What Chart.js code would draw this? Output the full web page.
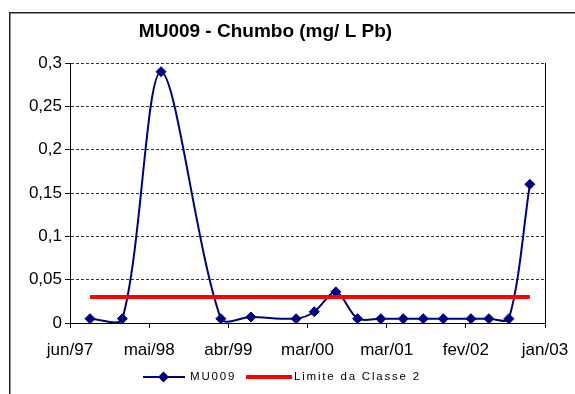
<!DOCTYPE html>
<html>
<head>
<meta charset="utf-8">
<script src="https://cdn.jsdelivr.net/npm/chart.js@4.4.1/dist/chart.umd.min.js"></script>
<style>
  html, body { margin: 0; padding: 0; background: #fff; }
</style>
</head>
<body>
<canvas id="chumboChart" width="575" height="394"></canvas>
<script>
const titulo = 'MU009 - Chumbo (mg/ L Pb)';
const serieNome = 'MU009';
const limiteNome = 'Limite da Classe 2';

// datas de coleta e valores
const datas = ['1997-09-06', '1998-01-23', '1998-07-08', '1999-03-22', '1999-07-29',
  '2000-02-08', '2000-04-26', '2000-07-28', '2000-10-29', '2001-02-06', '2001-05-13',
  '2001-08-07', '2001-11-01', '2002-02-28', '2002-05-16', '2002-08-10', '2002-11-08'];
const chumbo = [0.005, 0.005, 0.29, 0.005, 0.007, 0.005, 0.013, 0.036, 0.005,
  0.005, 0.005, 0.005, 0.005, 0.005, 0.005, 0.005, 0.16];
const limite = 0.03;

const inicioEixo = '1997-06-12';
const passoDias = 340;
const xTickLabels = ['jun/97', 'mai/98', 'abr/99', 'mar/00', 'mar/01', 'fev/02', 'jan/03'];
const yTickLabels = ['0', '0,05', '0,1', '0,15', '0,2', '0,25', '0,3'];
const yPasso = 0.05;

const dia = s => (Date.parse(s) - Date.parse(inicioEixo)) / 86400000;

const fonte = '"Liberation Sans", Arial, sans-serif';

const moldura = {
  id: 'moldura',
  beforeDraw(chart) {
    const ctx = chart.ctx;
    ctx.save();
    ctx.fillStyle = '#fff';
    ctx.fillRect(0, 0, chart.width, chart.height);
    ctx.strokeStyle = '#222';
    ctx.lineWidth = 1.5;
    ctx.strokeRect(9.75, 12.75, 800, 600);
    ctx.restore();
  },
  afterDraw(chart) {
    const ctx = chart.ctx;
    const a = chart.chartArea;
    ctx.save();
    // borda direita da area do grafico
    ctx.strokeStyle = '#000';
    ctx.lineWidth = 1;
    ctx.beginPath();
    ctx.moveTo(Math.round(a.right) + 0.5, a.top);
    ctx.lineTo(Math.round(a.right) + 0.5, a.bottom);
    ctx.stroke();

    // titulo
    ctx.fillStyle = '#000';
    ctx.font = 'bold 19px ' + fonte;
    ctx.textAlign = 'center';
    ctx.textBaseline = 'middle';
    ctx.fillText(titulo, 265.5, 32);

    // legenda
    const ly = 377;
    ctx.strokeStyle = '#000080';
    ctx.lineWidth = 2;
    ctx.beginPath();
    ctx.moveTo(143, ly);
    ctx.lineTo(185, ly);
    ctx.stroke();
    ctx.fillStyle = '#000080';
    ctx.beginPath();
    ctx.moveTo(158, ly);
    ctx.lineTo(163.5, ly - 5.5);
    ctx.lineTo(169, ly);
    ctx.lineTo(163.5, ly + 5.5);
    ctx.closePath();
    ctx.fill();

    ctx.strokeStyle = '#ff0000';
    ctx.lineWidth = 4;
    ctx.beginPath();
    ctx.moveTo(246, ly);
    ctx.lineTo(292, ly);
    ctx.stroke();

    ctx.fillStyle = '#000';
    ctx.font = '11.5px ' + fonte;
    ctx.letterSpacing = '1.8px';
    ctx.textAlign = 'left';
    ctx.fillText(serieNome, 190, ly);
    ctx.fillText(limiteNome, 294, ly);
    ctx.restore();
  }
};

new Chart(document.getElementById('chumboChart'), {
  type: 'line',
  data: {
    datasets: [
      {
        label: limiteNome,
        data: [{ x: dia(datas[0]), y: limite }, { x: dia(datas[datas.length - 1]), y: limite }],
        borderColor: '#ff0000',
        borderWidth: 4,
        pointRadius: 0,
        tension: 0,
        order: 0
      },
      {
        label: serieNome,
        data: datas.map((d, i) => ({ x: dia(d), y: chumbo[i] })),
        borderColor: '#000080',
        backgroundColor: '#000080',
        borderWidth: 2,
        pointStyle: 'rectRot',
        pointRadius: 5,
        pointBorderWidth: 1,
        tension: 0.3,
        clip: false,
        order: 1
      }
    ]
  },
  options: {
    responsive: false,
    animation: false,
    layout: { padding: { top: 63, right: 30, bottom: 0, left: 0 } },
    elements: { line: { capBezierPoints: false } },
    plugins: {
      legend: { display: false },
      title: { display: false },
      tooltip: { enabled: false }
    },
    scales: {
      x: {
        type: 'linear',
        min: 0,
        max: passoDias * (xTickLabels.length - 1),
        afterBuildTicks: s => { s.ticks = xTickLabels.map((_, i) => ({ value: i * passoDias })); },
        afterFit: s => { s.height = 71; s.paddingLeft = 0; s.paddingRight = 0; },
        ticks: {
          autoSkip: false,
          maxRotation: 0,
          padding: 12,
          color: '#000',
          font: { family: fonte, size: 17 },
          callback: (v, i) => xTickLabels[i]
        },
        grid: { drawOnChartArea: false, drawTicks: true, tickLength: 5, tickColor: '#000' },
        border: { color: '#000', width: 1 }
      },
      y: {
        min: 0,
        max: yPasso * (yTickLabels.length - 1),
        afterBuildTicks: s => { s.ticks = yTickLabels.map((_, i) => ({ value: i * yPasso })); },
        afterFit: s => { s.width = 70; s.paddingTop = 0; s.paddingBottom = 0; },
        ticks: {
          padding: 3,
          color: '#000',
          font: { family: fonte, size: 17 },
          callback: (v, i) => yTickLabels[i]
        },
        grid: {
          color: '#333',
          tickLength: 5,
          tickColor: '#000',
          tickBorderDash: [],
          tickWidth: 1
        },
        // no v4 o dash das linhas de grade fica em border.dash
        border: { color: '#000', width: 1, dash: [3, 2] }
      }
    }
  },
  plugins: [moldura]
});
</script>
</body>
</html>
